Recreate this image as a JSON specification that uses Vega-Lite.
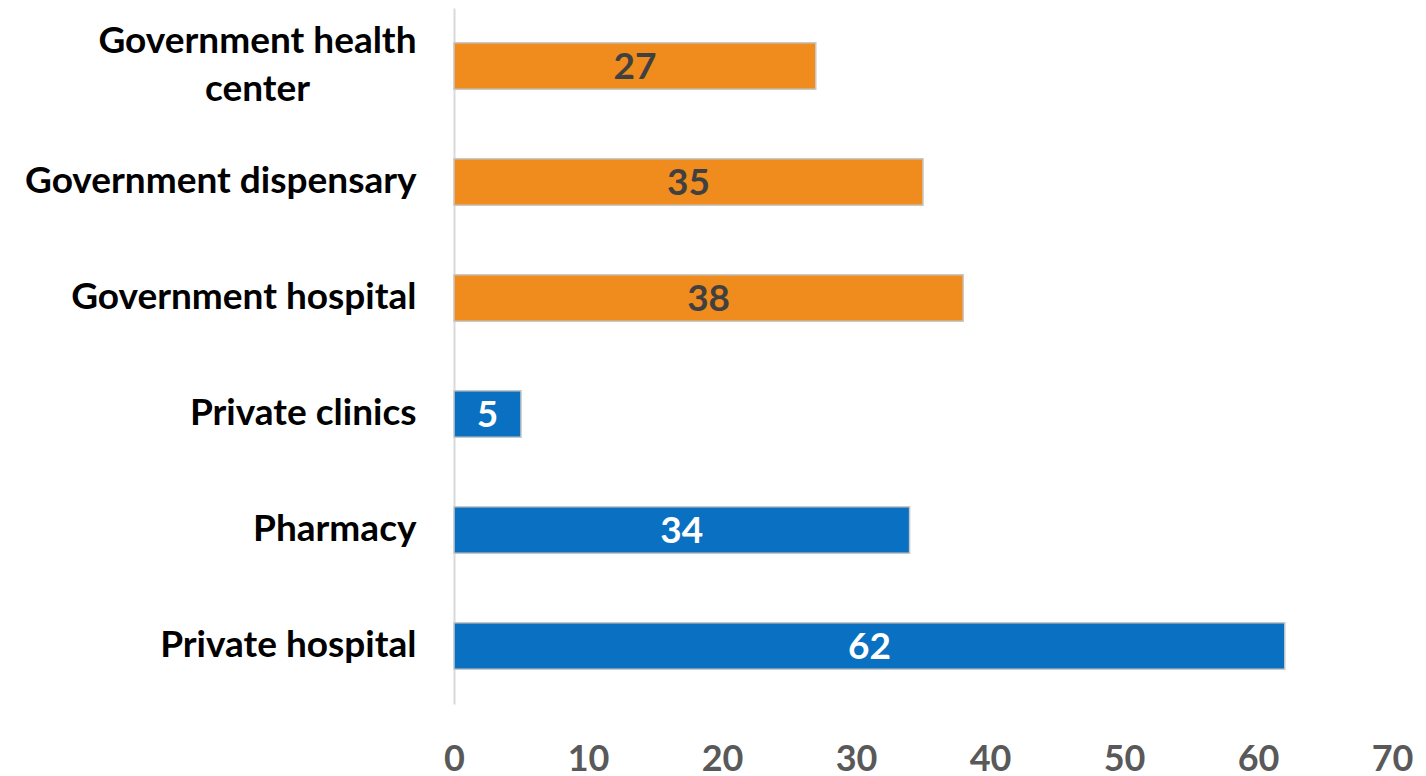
{
  "$schema": "https://vega.github.io/schema/vega-lite/v6.json",
  "autosize": {"type": "none"},
  "width": 938,
  "height": 696,
  "padding": {"left": 454, "top": 8, "right": 34, "bottom": 72},
  "background": "white",
  "config": {"view": {"stroke": null}, "font": "Lato"},
  "data": {
    "values": [
      {"category": "Government health center", "value": 27, "group": "Government"},
      {"category": "Government dispensary", "value": 35, "group": "Government"},
      {"category": "Government hospital", "value": 38, "group": "Government"},
      {"category": "Private clinics", "value": 5, "group": "Private"},
      {"category": "Pharmacy", "value": 34, "group": "Private"},
      {"category": "Private hospital", "value": 62, "group": "Private"}
    ]
  },
  "encoding": {
    "y": {
      "field": "category",
      "type": "nominal",
      "sort": null,
      "scale": {"paddingInner": 0.6, "paddingOuter": 0.3},
      "axis": {
        "title": null,
        "ticks": false,
        "domain": true,
        "domainColor": "#d9d9d9",
        "domainWidth": 2,
        "labelFont": "Lato",
        "labelFontSize": 37,
        "labelFontWeight": "bold",
        "labelColor": "#000000",
        "labelPadding": {"condition": {"test": "datum.value == 'Government health center'", "value": 197}, "value": 38},
        "labelAlign": {"condition": {"test": "datum.value == 'Government health center'", "value": "center"}, "value": "right"},
        "labelOffset": {"condition": {"test": "datum.value == 'Government health center'", "value": -24}, "value": 0},
        "labelLimit": 500,
        "labelLineHeight": 48,
        "labelExpr": "datum.value == 'Government health center' ? ['Government health', 'center'] : datum.value"
      }
    }
  },
  "layer": [
    {
      "mark": {"type": "bar", "stroke": "#c8c8c8", "strokeWidth": 1.5},
      "encoding": {
        "x": {
          "field": "value",
          "type": "quantitative",
          "scale": {"domain": [0, 70]},
          "axis": {
            "title": null,
            "values": [0, 10, 20, 30, 40, 50, 60, 70],
            "grid": false,
            "domain": false,
            "ticks": false,
            "labelFont": "Lato",
            "labelFontSize": 36,
            "labelFontWeight": "bold",
            "labelColor": "#595959",
            "labelPadding": 38,
            "labelFlush": false
          }
        },
        "color": {
          "field": "group",
          "type": "nominal",
          "scale": {"domain": ["Government", "Private"], "range": ["#f08c1e", "#0a70c2"]},
          "legend": null
        }
      }
    },
    {
      "mark": {"type": "text", "fontSize": 37, "fontWeight": "bold", "font": "Lato", "baseline": "middle", "align": "center", "dy": 2, "dx": {"expr": "-scale('x', datum.value) / 2"}},
      "encoding": {
        "x": {"field": "value", "type": "quantitative"},
        "text": {"field": "value", "type": "quantitative"},
        "color": {
          "field": "group",
          "type": "nominal",
          "scale": {"domain": ["Government", "Private"], "range": ["#404040", "#ffffff"]},
          "legend": null
        }
      }
    }
  ],
  "resolve": {"scale": {"color": "independent"}}
}
